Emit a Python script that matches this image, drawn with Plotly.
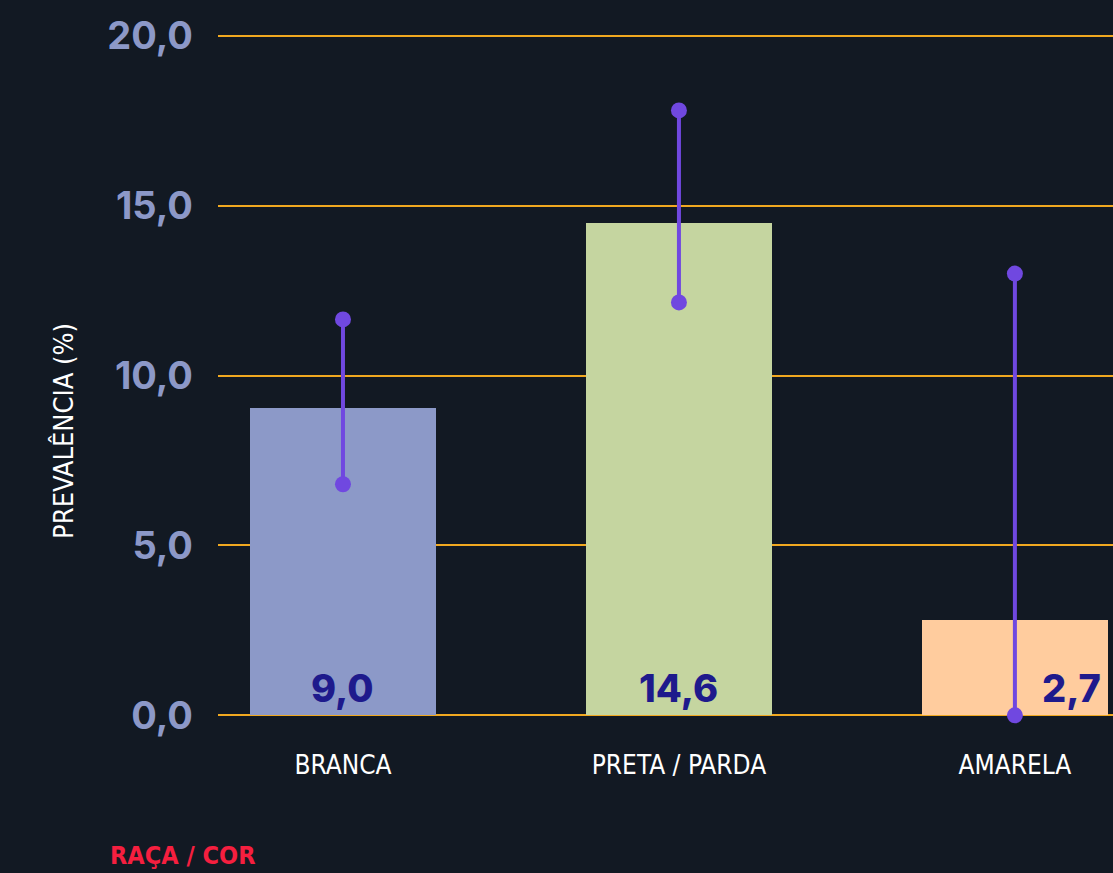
import plotly.graph_objects as go

categories = ["BRANCA", "PRETA / PARDA", "AMARELA"]
prevalence = [9.0, 14.6, 2.7]
bar_heights = [9.05, 14.5, 2.8]
ci_low = [6.8, 12.15, 0.0]
ci_high = [11.65, 17.8, 13.0]
labels = ["9,0", "14,6", "2,7"]
label_xshift = [0, 0, 57]
y_ticks = [0, 5, 10, 15, 20]
y_tick_text = ["0,0", "5,0", "10,0", "15,0", "20,0"]
bar_colors = ["#8c99c8", "#c5d5a0", "#ffcc9e"]

BG = "#121923"
PURPLE = "#7048e0"
GRID = "#f0a820"
COND = "DejaVu Sans Condensed, Liberation Sans Narrow, Roboto Condensed, DejaVu Sans"

fig = go.Figure()
fig.add_trace(go.Bar(
    x=categories, y=bar_heights, marker=dict(color=bar_colors, line=dict(width=0)),
    width=0.556, hoverinfo="skip", showlegend=False,
))

ex, ey = [], []
for c, lo, hi in zip(categories, ci_low, ci_high):
    ex += [c, c, None]
    ey += [lo, hi, None]
fig.add_trace(go.Scatter(
    x=ex, y=ey, mode="lines+markers",
    line=dict(color=PURPLE, width=4),
    marker=dict(color=PURPLE, size=16),
    cliponaxis=False, showlegend=False, hoverinfo="skip",
))

for c, t, xs in zip(categories, labels, label_xshift):
    fig.add_annotation(
        x=c, y=0, text=t, showarrow=False, yanchor="bottom", yshift=2, xshift=xs,
        font=dict(family="Inter", size=38, color="#1e1a8c", weight=800),
    )

fig.add_annotation(
    xref="paper", yref="paper", x=-0.172, y=0.419, xanchor="center", yanchor="middle",
    text="PREVALÊNCIA (%)", textangle=-90, showarrow=False,
    font=dict(family=COND, size=27, color="#ffffff"),
)

fig.add_annotation(
    xref="paper", yref="paper", x=-0.123, y=-0.178, xanchor="left", yanchor="top",
    text="<b>RAÇA / COR</b>", showarrow=False,
    font=dict(family=COND, size=25, color="#f51f3f"),
)

fig.update_layout(
    width=1113, height=873,
    margin=dict(l=218, r=0, t=34, b=156),
    paper_bgcolor=BG, plot_bgcolor=BG,
    xaxis=dict(
        range=[-0.372, 2.292], showgrid=False, zeroline=False, showline=False,
        ticks="", tickfont=dict(family=COND, size=26, color="#ffffff"),
        ticklabelstandoff=30,
    ),
    yaxis=dict(
        range=[-0.05, 20.05], tickvals=y_ticks, ticktext=y_tick_text,
        showgrid=True, gridcolor=GRID, gridwidth=1.5,
        zeroline=True, zerolinecolor=GRID, zerolinewidth=1.5,
        showline=False, ticks="", ticklabelstandoff=24,
        tickfont=dict(family="Inter", size=38, color="#8c98c8", weight="bold"),
    ),
    bargap=0,
)

fig.write_html(
    "out.html",
    config={"displayModeBar": False},
    post_script="document.body.style.margin='0';document.body.style.background='#121923';",
)
